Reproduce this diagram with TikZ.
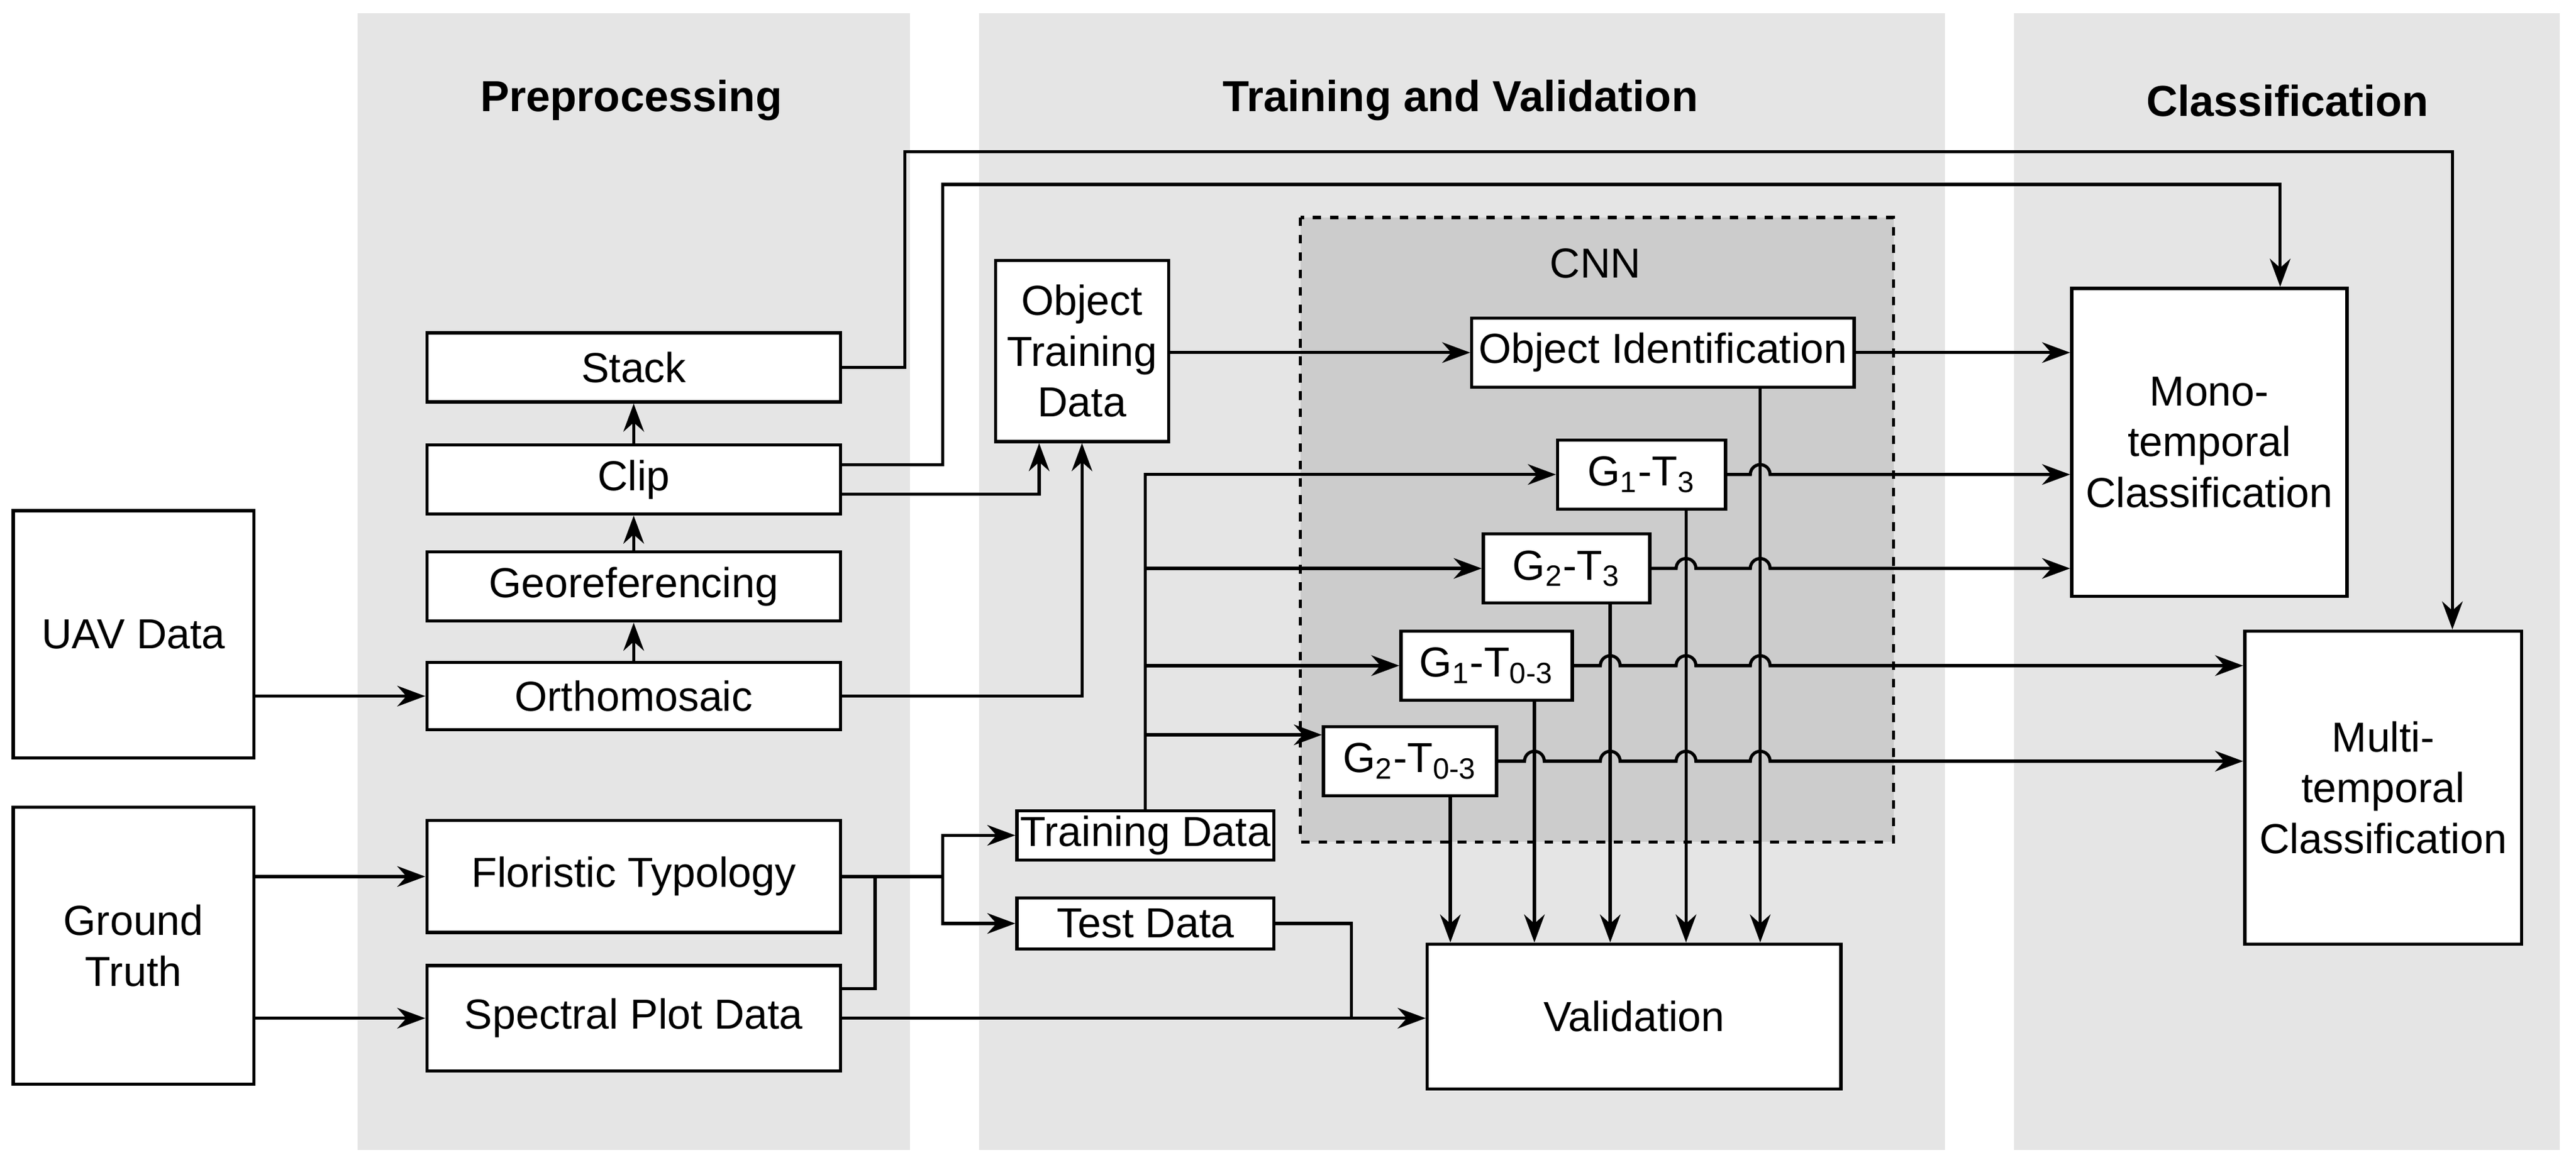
\documentclass[tikz,border=0pt]{standalone}
\usepackage{fontspec}
\setmainfont{Liberation Sans}
\usetikzlibrary{arrows.meta}
\begin{document}
\begin{tikzpicture}[x=0.02cm,y=-0.02cm,
  box/.style={draw,fill=white,line width=1.1pt,inner sep=0pt,align=center,font=\fontsize{14.5}{17.5}\selectfont},
  arr/.style={line width=1.1pt,-{Stealth[length=0.34cm,width=0.25cm]}},
  ln/.style={line width=1.1pt},
  panel/.style={fill=black!10,draw=none},
  ttl/.style={font=\fontsize{15}{18}\selectfont\bfseries}]
\newcommand\bx[6]{\node[box,minimum width={0.02cm*(#4-#2)},minimum height={0.02cm*(#5-#3)}] (#1) at ({(#2+#4)/2},{(#3+#5)/2}) {#6};}
\newcommand\hop{arc[start angle=180,end angle=0,radius=0.12cm]}
\useasboundingbox (0,0) rectangle (1563,707);
\fill[white] (0,0) rectangle (1563,707);
\fill[panel] (217,8) rectangle (552,698);
\fill[panel] (594,8) rectangle (1180,698);
\fill[panel] (1222,8) rectangle (1553,698);
\node[ttl] (t1) at (383,61) {Preprocessing};
\node[ttl] (t2) at (886,61) {Training and Validation};
\node[ttl] (t3) at (1388,61) {Classification};
\draw[dashed,line width=1.1pt,fill=black!20] (789,132) rectangle (1149,511);
\node[font=\fontsize{14.5}{17.5}\selectfont] (cnn) at (968,160) {CNN};
\bx{uav}{8}{310}{154}{460}{UAV Data}
\bx{gt}{8}{490}{154}{658}{Ground\\Truth}
\bx{stack}{259}{202}{510}{244}{Stack}
\bx{clip}{259}{270}{510}{312}{Clip}
\bx{geo}{259}{335}{510}{377}{Georeferencing}
\bx{ortho}{259}{402}{510}{443}{Orthomosaic}
\bx{flor}{259}{498}{510}{566}{Floristic Typology}
\bx{spec}{259}{586}{510}{650}{Spectral Plot Data}
\bx{objtr}{604}{158}{709}{268}{Object\\Training\\Data}
\bx{objid}{893}{193}{1125}{235}{Object Identification}
\bx{gat}{945}{267}{1047}{309}{G\textsubscript{1}-T\textsubscript{3}}
\bx{gbt}{900}{324}{1001}{366}{G\textsubscript{2}-T\textsubscript{3}}
\bx{gct}{850}{383}{954}{425}{G\textsubscript{1}-T\textsubscript{0-3}}
\bx{gdt}{803}{441}{908}{483}{G\textsubscript{2}-T\textsubscript{0-3}}
\bx{train}{617}{492}{773}{522}{Training Data}
\bx{test}{617}{545}{773}{576}{Test Data}
\bx{valid}{866}{573}{1117}{661}{Validation}
\bx{mono}{1257}{175}{1424}{362}{Mono-\\temporal\\Classification}
\bx{multi}{1362}{383}{1530}{573}{Multi-\\temporal\\Classification}
\coordinate (c1) at (549,92);
\coordinate (c2) at (572,112);
\coordinate (j1) at (531,532);
\coordinate (j2) at (572,532);
\coordinate (x820) at (820,0);
\coordinate (va) at (1068,0);
\coordinate (vb) at (1023,0);
\coordinate (vc) at (977,0);
\coordinate (vd) at (931,0);
\coordinate (ve) at (880,0);
% inputs
\draw[arr] (uav.east |- ortho.west) -- (ortho.west);
\draw[arr] (gt.east |- flor.west) -- (flor.west);
\draw[arr] (gt.east |- spec.west) -- (spec.west);
\draw[arr] (ortho.north) -- (geo.south);
\draw[arr] (geo.north) -- (clip.south);
\draw[arr] (clip.north) -- (stack.south);
\draw[arr] (stack.east) -- (stack.east -| c1) |- ([xshift=0.84cm]multi.north |- c1) -- ([xshift=0.84cm]multi.north);
\draw[arr] ([yshift=0.18cm]clip.east) -- ([yshift=0.18cm]clip.east -| c2) |- ([xshift=0.86cm]mono.north |- c2) -- ([xshift=0.86cm]mono.north);
\draw[arr] ([yshift=-0.18cm]clip.east) -| ([xshift=-0.52cm]objtr.south);
\draw[arr] (ortho.east) -| (objtr.south);
\draw[arr] (objtr.east |- objid.west) -- (objid.west);
\draw[arr] (objid.east) -- (objid.east -| mono.west);
% ground truth split
\draw[ln] (flor.east) -- (j1);
\draw[ln] ([yshift=0.36cm]spec.east) -| (j1);
\draw[ln] (j1) -- (j2);
\draw[arr] (j2) |- (train.west);
\draw[arr] (j2) |- (test.west);
\draw[arr] (spec.east) -- (spec.east -| valid.west);
\draw[ln] (test.east) -| (x820 |- spec.east);
% training data to models
\draw[arr] (train.north) |- (gat.west);
\draw[arr] (train.north |- gbt.west) -- (gbt.west);
\draw[arr] (train.north |- gct.west) -- (gct.west);
\draw[arr] ([yshift=0.32cm]gdt.west -| train.north) -- ([yshift=0.32cm]gdt.west);
% vertical lines to validation
\draw[arr] (va |- objid.south) -- (va |- valid.north);
\draw[arr] (vb |- gat.south) -- (vb |- valid.north);
\draw[arr] (vc |- gbt.south) -- (vc |- valid.north);
\draw[arr] (vd |- gct.south) -- (vd |- valid.north);
\draw[arr] (ve |- gdt.south) -- (ve |- valid.north);
% outputs with hops
\draw[arr] (gat.east) -- ([xshift=-0.12cm]va |- gat.east) \hop -- (gat.east -| mono.west);
\draw[arr] (gbt.east) -- ([xshift=-0.12cm]vb |- gbt.east) \hop -- ([xshift=-0.12cm]va |- gbt.east) \hop -- (gbt.east -| mono.west);
\draw[arr] (gct.east) -- ([xshift=-0.12cm]vc |- gct.east) \hop -- ([xshift=-0.12cm]vb |- gct.east) \hop -- ([xshift=-0.12cm]va |- gct.east) \hop -- (gct.east -| multi.west);
\draw[arr] (gdt.east) -- ([xshift=-0.12cm]vd |- gdt.east) \hop -- ([xshift=-0.12cm]vc |- gdt.east) \hop -- ([xshift=-0.12cm]vb |- gdt.east) \hop -- ([xshift=-0.12cm]va |- gdt.east) \hop -- (gdt.east -| multi.west);
\end{tikzpicture}
\end{document}
